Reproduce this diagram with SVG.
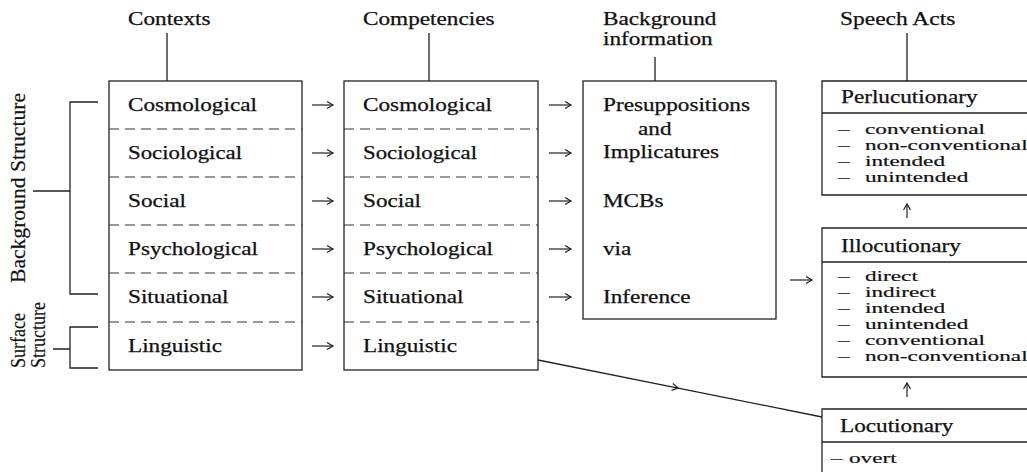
<svg xmlns="http://www.w3.org/2000/svg" width="1027" height="472" viewBox="0 0 1027 472">
<style>
.t{font-family:"Liberation Serif","Times New Roman",serif;font-size:18px;fill:#111;stroke:#111;stroke-width:0.25}
.li{font-family:"Liberation Serif","Times New Roman",serif;font-size:15.5px;fill:#111;stroke:#111;stroke-width:0.2}
.r{font-family:"Liberation Serif","Times New Roman",serif;font-size:22px;fill:#111;stroke:#111;stroke-width:0.2}
.box{fill:none;stroke:#222;stroke-width:1.3}
.dash{fill:none;stroke:#333;stroke-width:1.2;stroke-dasharray:10 6}
.ln{fill:none;stroke:#222;stroke-width:1.3}
.arr{fill:none;stroke:#222;stroke-width:1.2;marker-end:url(#ah)}
</style>
<defs>
<marker id="ah" markerUnits="userSpaceOnUse" markerWidth="10" markerHeight="10" refX="7" refY="4" orient="auto">
<path d="M1,0.5 L7,4 L1,7.5" fill="none" stroke="#222" stroke-width="1.2"/>
</marker>
</defs>

<g id="labels-left">
<text class="r" transform="translate(25,283) rotate(-90)" textLength="190" lengthAdjust="spacingAndGlyphs">Background Structure</text>
<text class="r" transform="translate(25,368) rotate(-90)" textLength="55" lengthAdjust="spacingAndGlyphs">Surface</text>
<text class="r" transform="translate(45,368) rotate(-90)" textLength="66" lengthAdjust="spacingAndGlyphs">Structure</text>
<path class="ln" d="M98,102 H70 V294 H98 M33,191 H70"/>
<path class="ln" d="M98,327 H70 V368 H98 M53,349 H70"/>
</g>

<g id="contexts">
<text class="t" x="128" y="25" textLength="82.5" lengthAdjust="spacingAndGlyphs">Contexts</text>
<line class="ln" x1="167" y1="33" x2="167" y2="81"/>
<rect class="box" x="109" y="81" width="193" height="289"/>
<path class="dash" d="M109,129 H302 M109,177 H302 M109,225 H302 M109,273 H302 M109,322 H302"/>
<text class="t" x="128" y="111" textLength="129" lengthAdjust="spacingAndGlyphs">Cosmological</text>
<text class="t" x="128" y="159" textLength="114" lengthAdjust="spacingAndGlyphs">Sociological</text>
<text class="t" x="128" y="207" textLength="58" lengthAdjust="spacingAndGlyphs">Social</text>
<text class="t" x="128" y="255" textLength="130" lengthAdjust="spacingAndGlyphs">Psychological</text>
<text class="t" x="128" y="303" textLength="100.5" lengthAdjust="spacingAndGlyphs">Situational</text>
<text class="t" x="128" y="352" textLength="94" lengthAdjust="spacingAndGlyphs">Linguistic</text>
</g>

<g id="competencies">
<text class="t" x="363" y="25" textLength="131.5" lengthAdjust="spacingAndGlyphs">Competencies</text>
<line class="ln" x1="429" y1="33" x2="429" y2="81"/>
<rect class="box" x="344" y="81" width="194" height="289"/>
<path class="dash" d="M344,129 H538 M344,177 H538 M344,225 H538 M344,273 H538 M344,322 H538"/>
<text class="t" x="363" y="111" textLength="129" lengthAdjust="spacingAndGlyphs">Cosmological</text>
<text class="t" x="363" y="159" textLength="114" lengthAdjust="spacingAndGlyphs">Sociological</text>
<text class="t" x="363" y="207" textLength="58" lengthAdjust="spacingAndGlyphs">Social</text>
<text class="t" x="363" y="255" textLength="130" lengthAdjust="spacingAndGlyphs">Psychological</text>
<text class="t" x="363" y="303" textLength="100.5" lengthAdjust="spacingAndGlyphs">Situational</text>
<text class="t" x="363" y="352" textLength="94" lengthAdjust="spacingAndGlyphs">Linguistic</text>
</g>

<g id="background-information">
<text class="t" x="603" y="25" textLength="113.4" lengthAdjust="spacingAndGlyphs">Background</text>
<text class="t" x="603" y="45" textLength="109.6" lengthAdjust="spacingAndGlyphs">information</text>
<line class="ln" x1="655" y1="57" x2="655" y2="81"/>
<rect class="box" x="583" y="81" width="193" height="238"/>
<text class="t" x="603" y="111" textLength="147" lengthAdjust="spacingAndGlyphs">Presuppositions</text>
<text class="t" x="638" y="135" textLength="33.5" lengthAdjust="spacingAndGlyphs">and</text>
<text class="t" x="603" y="158" textLength="116" lengthAdjust="spacingAndGlyphs">Implicatures</text>
<text class="t" x="603" y="207" textLength="60.6" lengthAdjust="spacingAndGlyphs">MCBs</text>
<text class="t" x="603" y="255" textLength="28.4" lengthAdjust="spacingAndGlyphs">via</text>
<text class="t" x="603" y="303" textLength="87.6" lengthAdjust="spacingAndGlyphs">Inference</text>
</g>

<g id="speech-acts">
<text class="t" x="840" y="25" textLength="115.3" lengthAdjust="spacingAndGlyphs">Speech Acts</text>
<line class="ln" x1="907" y1="33" x2="907" y2="81"/>
</g>

<g id="perlocutionary">
<path class="box" d="M1032,81 H822 V195 H1032 M822,113 H1032"/>
<text class="t" x="841" y="103" textLength="136.6" lengthAdjust="spacingAndGlyphs">Perlucutionary</text>
<text class="li" transform="translate(838,134) scale(1.5,1)"><tspan x="0" y="0">–</tspan><tspan x="18" y="0">conventional</tspan><tspan x="0" y="16">–</tspan><tspan x="18" y="16">non-conventional</tspan><tspan x="0" y="32">–</tspan><tspan x="18" y="32">intended</tspan><tspan x="0" y="48">–</tspan><tspan x="18" y="48">unintended</tspan></text>
</g>

<g id="illocutionary">
<path class="box" d="M1032,228 H822 V377 H1032 M822,262 H1032"/>
<text class="t" x="841" y="252" textLength="119.9" lengthAdjust="spacingAndGlyphs">Illocutionary</text>
<text class="li" transform="translate(838,281) scale(1.5,1)"><tspan x="0" y="0">–</tspan><tspan x="18" y="0">direct</tspan><tspan x="0" y="16">–</tspan><tspan x="18" y="16">indirect</tspan><tspan x="0" y="32">–</tspan><tspan x="18" y="32">intended</tspan><tspan x="0" y="48">–</tspan><tspan x="18" y="48">unintended</tspan><tspan x="0" y="64">–</tspan><tspan x="18" y="64">conventional</tspan><tspan x="0" y="80">–</tspan><tspan x="18" y="80">non-conventional</tspan></text>
</g>

<g id="locutionary">
<path class="box" d="M1032,409 H822 V475 M822,442 H1032"/>
<text class="t" x="840" y="432" textLength="113.4" lengthAdjust="spacingAndGlyphs">Locutionary</text>
<text class="li" transform="translate(831,463) scale(1.5,1)"><tspan x="0" y="0">–</tspan><tspan x="12" y="0">overt</tspan></text>
</g>

<g id="connectors">
<line class="arr" x1="312" y1="105" x2="333" y2="105"/>
<line class="arr" x1="312" y1="153" x2="333" y2="153"/>
<line class="arr" x1="312" y1="201" x2="333" y2="201"/>
<line class="arr" x1="312" y1="249" x2="333" y2="249"/>
<line class="arr" x1="312" y1="297" x2="333" y2="297"/>
<line class="arr" x1="312" y1="346" x2="333" y2="346"/>
<line class="arr" x1="549" y1="105" x2="571" y2="105"/>
<line class="arr" x1="549" y1="153" x2="571" y2="153"/>
<line class="arr" x1="549" y1="201" x2="571" y2="201"/>
<line class="arr" x1="549" y1="249" x2="571" y2="249"/>
<line class="arr" x1="549" y1="297" x2="571" y2="297"/>
<line class="arr" x1="790" y1="280" x2="812" y2="280"/>
<line class="arr" x1="907" y1="218" x2="907" y2="204"/>
<line class="arr" x1="907" y1="397" x2="907" y2="383"/>
<polyline points="538,360 678,388.1 822,417" fill="none" stroke="#222" stroke-width="1.3" marker-mid="url(#ah)"/>
</g>
</svg>
